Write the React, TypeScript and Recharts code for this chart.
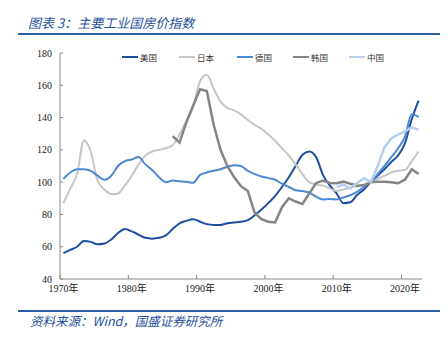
import { LineChart, Line, XAxis, YAxis } from 'recharts';

const years = [
  1970, 1971, 1972, 1973, 1974, 1975, 1976, 1977, 1978, 1979,
  1980, 1981, 1982, 1983, 1984, 1985, 1986, 1987, 1988, 1989,
  1990, 1991, 1992, 1993, 1994, 1995, 1996, 1997, 1998, 1999,
  2000, 2001, 2002, 2003, 2004, 2005, 2006, 2007, 2008, 2009,
  2010, 2011, 2012, 2013, 2014, 2015, 2016, 2017, 2018, 2019,
  2020, 2021, 2022,
];

const usa = [
  56, 58, 60, 63.5, 63, 61.5, 62, 64.5, 68.5, 71,
  69.5, 67.5, 65.5, 65, 65.5, 67, 71, 74.5, 76, 77,
  75.5, 74, 73.5, 73.5, 74.5, 75, 75.5, 76.5, 79.5, 83,
  87, 91.5, 97, 103, 110, 117, 119, 115.5, 104.5, 98,
  93, 87, 87.5, 92, 95.5, 100, 104, 108, 112.5, 116.5,
  124, 139, 150.5,
];

const japan = [
  87, 96, 105, 126, 119, 101, 95.5, 92.5, 93, 98,
  104, 111, 116.5, 119, 120, 121, 123, 129.5, 138, 147,
  162.5, 166.5, 158, 150, 146, 144.5, 142, 138.5, 135.5, 133,
  129.5, 125.5, 121, 116.5, 111, 105, 100, 98.5, 98, 96,
  94.5, 95.5, 96.5, 97.5, 98.5, 100, 102, 104, 106, 107,
  107.5, 113, 119,
];

const germany = [
  102, 106, 108, 108, 107, 104, 101.5, 104, 110, 113,
  114, 115.5, 111, 107.5, 103, 100, 101, 100.5, 100.2, 99.6,
  104.5, 106, 107, 108, 109.5, 110.5, 110, 107, 105, 103.5,
  102.5, 101.5, 99, 97, 95, 94.5, 93.5, 91, 89.3, 89.5,
  89.3, 90.5, 92, 94, 97, 100, 105, 110, 115.5, 121,
  128, 142, 140.5,
];

// 韩国 from 1986
const koreaStart = 1986;
const korea = [
  128.5, 124.5, 137, 147.5,
  157.5, 156.5, 135.5, 120, 110, 103, 97.5, 94.5, 81, 77,
  75.5, 75, 84.5, 90, 88, 86.5, 93, 99.5, 101, 99.5,
  99.3, 100.3, 99, 97.8, 98, 100, 100.3, 100.2, 100, 99.3,
  101.5, 108, 105,
];

// 中国 from 2010
const chinaStart = 2010;
const china = [
  97, 98.5, 96, 99.5, 102.5, 100, 110, 121.5, 127, 129.5,
  131.5, 134, 132.5,
];

const yTicks = [40, 60, 80, 100, 120, 140, 160, 180];
const decadeLabels = [1970, 1980, 1990, 2000, 2010, 2020];

const series = [
  { key: 'usa', name: '美国', color: '#1d4f9f', width: 2, type: 'monotone' },
  { key: 'japan', name: '日本', color: '#c6c6c6', width: 2, type: 'monotone' },
  { key: 'germany', name: '德国', color: '#4d88d2', width: 2, type: 'monotone' },
  { key: 'korea', name: '韩国', color: '#858585', width: 2.5, type: 'linear' },
  { key: 'china', name: '中国', color: '#b6cfec', width: 2.5, type: 'linear' },
];

const chartData = years.map((year, i) => ({
  year,
  usa: usa[i],
  japan: japan[i],
  germany: germany[i],
  korea: year >= koreaStart ? korea[year - koreaStart] : null,
  china: year >= chinaStart ? china[year - chinaStart] : null,
}));

const tickFont = '"Liberation Serif", "Noto Sans CJK SC", serif';

function XTick({ x, y, payload }: any) {
  return (
    <g>
      <line x1={x} y1={y} x2={x} y2={y - 4} stroke="#888" strokeWidth={1} />
      <text x={x + 3.5} y={y + 13} textAnchor="middle" fontSize={10} fill="#222" fontFamily={tickFont}>
        {`${Math.round(payload.value + 0.5)}年`}
      </text>
    </g>
  );
}

function YTick({ x, y, payload }: any) {
  return (
    <g>
      <line x1={x} y1={y} x2={x + 3} y2={y} stroke="#888" strokeWidth={1} />
      <text x={x - 8} y={y + 3.5} textAnchor="end" fontSize={10} fill="#222" fontFamily={tickFont}>
        {payload.value}
      </text>
    </g>
  );
}

const legendX = [122, 179, 237, 293, 349];

export default function App() {
  return (
    <div style={{ position: 'absolute', left: 0, top: 0, width: 448, height: 341, background: '#fff', fontFamily: '"Noto Sans CJK SC", sans-serif' }}>
      <div style={{ position: 'absolute', left: 28, top: 13, fontSize: 13, fontStyle: 'italic', color: '#1f4f9e', whiteSpace: 'nowrap' }}>
        图表 3：主要工业国房价指数
      </div>
      <div style={{ position: 'absolute', left: 18, top: 33, width: 422, height: 2, background: '#2d5ea8' }} />

      <LineChart width={448} height={341} data={chartData} margin={{ top: 53, right: 26, bottom: 32, left: 20 }}>
        <XAxis
          dataKey="year"
          type="number"
          domain={[1969.5, 2022.5]}
          ticks={decadeLabels.map((d) => d - 0.5)}
          interval={0}
          tickSize={0}
          tickMargin={0}
          tick={<XTick />}
          axisLine={{ stroke: '#888' }}
          tickLine={false}
          height={30}
        />
        <YAxis
          type="number"
          domain={[40, 180]}
          ticks={yTicks}
          interval={0}
          tickSize={0}
          tickMargin={0}
          tick={<YTick />}
          axisLine={{ stroke: '#888' }}
          tickLine={false}
          width={40}
        />
        {series.map((s) => (
          <Line
            key={s.key}
            dataKey={s.key}
            name={s.name}
            type={s.type as any}
            stroke={s.color}
            strokeWidth={s.width}
            dot={false}
            activeDot={false}
            connectNulls={false}
            isAnimationActive={false}
          />
        ))}
      </LineChart>

      {series.map((s, i) => (
        <div key={s.key} style={{ position: 'absolute', left: legendX[i], top: 51, display: 'flex', alignItems: 'center', whiteSpace: 'nowrap' }}>
          <span style={{ display: 'inline-block', width: 16, height: 2, background: s.color }} />
          <span style={{ fontSize: 8.5, color: '#333', marginLeft: 2, lineHeight: '12px' }}>{s.name}</span>
        </div>
      ))}

      <div style={{ position: 'absolute', left: 18, top: 309.5, width: 422, height: 2, background: '#2d5ea8' }} />
      <div style={{ position: 'absolute', left: 30, top: 311, fontSize: 12.5, fontStyle: 'italic', color: '#1f4f9e', whiteSpace: 'nowrap' }}>
        资料来源：Wind，国盛证券研究所
      </div>
    </div>
  );
}
